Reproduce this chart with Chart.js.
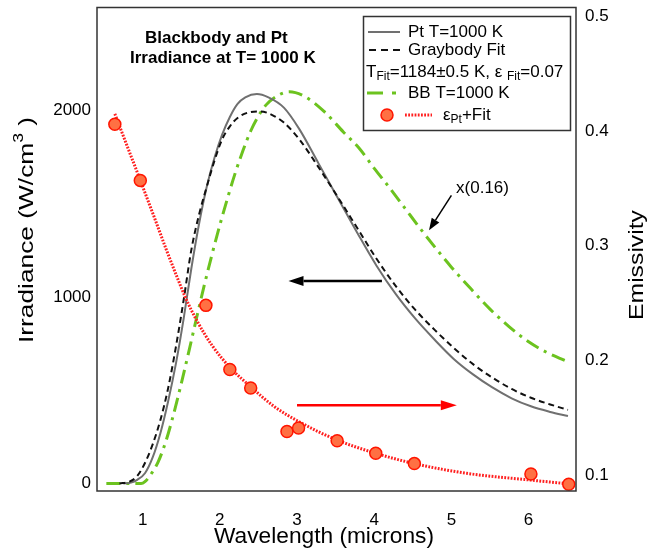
<!DOCTYPE html>
<html><head><meta charset="utf-8">
<script src="https://cdn.jsdelivr.net/npm/chart.js@4/dist/chart.umd.min.js"></script>
<style>html,body{margin:0;padding:0;background:#fff;}canvas{display:block;}</style>
</head><body>
<canvas id="c" width="647" height="550"></canvas>
<script>
// ---------- values ----------
const xTicks = [1, 2, 3, 4, 5, 6];
const leftTicks = [0, 1000, 2000];
const rightTicks = [0.1, 0.2, 0.3, 0.4, 0.5];

// Pt T=1000 K (grey solid)
const ptWavelength = [0.75, 0.85, 0.93, 1.03, 1.13, 1.23, 1.33, 1.43, 1.53, 1.63, 1.73, 1.83, 1.93, 2.03, 2.13, 2.23, 2.33, 2.48, 2.63, 2.83, 3.03, 3.28, 3.53, 3.78, 4.03, 4.28, 4.53, 4.78, 5.03, 5.28, 5.53, 5.78, 6.03, 6.28, 6.51];
const ptIrradiance = [0, 5, 20, 55, 140, 270, 440, 640, 880, 1150, 1390, 1590, 1745, 1870, 1965, 2035, 2070, 2088, 2070, 2015, 1900, 1715, 1530, 1345, 1168, 1015, 885, 772, 668, 585, 515, 457, 414, 384, 362];

// Graybody fit (black dashed)
const graybodyWavelength = [0.70, 0.83, 0.93, 1.03, 1.13, 1.23, 1.33, 1.43, 1.53, 1.63, 1.73, 1.83, 1.93, 2.03, 2.13, 2.23, 2.38, 2.53, 2.68, 2.83, 3.03, 3.28, 3.53, 3.78, 4.03, 4.28, 4.53, 4.78, 5.03, 5.28, 5.53, 5.78, 6.03, 6.28, 6.51];
const graybodyIrradiance = [0, 10, 40, 110, 210, 340, 510, 730, 980, 1250, 1440, 1590, 1730, 1845, 1915, 1960, 1990, 1995, 1975, 1935, 1845, 1695, 1535, 1370, 1205, 1058, 932, 825, 727, 640, 568, 507, 460, 424, 395];

// BB T=1000 K x(0.16) (green dash-dot)
const bbWavelength = [0.53, 0.98, 1.03, 1.1, 1.2, 1.3, 1.4, 1.5, 1.6, 1.7, 1.8, 1.9, 2.0, 2.1, 2.2, 2.3, 2.4, 2.5, 2.6, 2.75, 2.9, 3.1, 3.35, 3.6, 3.8, 4.0, 4.2, 4.4, 4.6, 4.8, 5.0, 5.25, 5.5, 5.75, 6.0, 6.25, 6.47];
const bbIrradiance = [0, 0, 10, 45, 115, 225, 370, 535, 710, 890, 1065, 1230, 1385, 1530, 1665, 1785, 1890, 1970, 2030, 2080, 2100, 2075, 1995, 1885, 1800, 1690, 1585, 1475, 1365, 1260, 1160, 1045, 935, 840, 760, 700, 660];

// Pt emissivity, measured points (right axis)
const emisWavelength = [0.64, 0.97, 1.82, 2.13, 2.40, 2.87, 3.02, 3.52, 4.02, 4.52, 6.03, 6.52];
const emisValues = [0.406, 0.357, 0.248, 0.192, 0.176, 0.138, 0.141, 0.130, 0.119, 0.110, 0.101, 0.092];

// Pt emissivity fit (red dotted)
const fitWavelength = [0.64, 0.97, 1.15, 1.31, 1.45, 1.56, 1.70, 1.90, 2.13, 2.40, 2.70, 3.04, 3.52, 4.02, 4.52, 5.20, 6.03, 6.58];
const fitValues = [0.415, 0.357, 0.325, 0.296, 0.272, 0.254, 0.235, 0.213, 0.194, 0.177, 0.160, 0.146, 0.1305, 0.119, 0.110, 0.1015, 0.0956, 0.0919];

// ---------- chart ----------
const FF = "'Liberation Sans', Arial, Helvetica, sans-serif";
const toXY = (xs, ys) => xs.map((x, i) => ({ x: x, y: ys[i] }));

function arrow(ctx, x1, y1, x2, y2, color, lw, headLen, headHalf) {
  const a = Math.atan2(y2 - y1, x2 - x1);
  const bx = x2 - headLen * Math.cos(a), by = y2 - headLen * Math.sin(a);
  ctx.save();
  ctx.strokeStyle = color; ctx.fillStyle = color; ctx.lineWidth = lw; ctx.setLineDash([]);
  ctx.beginPath(); ctx.moveTo(x1, y1); ctx.lineTo(bx, by); ctx.stroke();
  ctx.beginPath();
  ctx.moveTo(x2, y2);
  ctx.lineTo(bx + headHalf * Math.sin(a), by - headHalf * Math.cos(a));
  ctx.lineTo(bx - headHalf * Math.sin(a), by + headHalf * Math.cos(a));
  ctx.closePath(); ctx.fill();
  ctx.restore();
}

// draw a run of [text, size, dy] pieces left to right
function runs(ctx, pieces, x, y) {
  let cx = x;
  pieces.forEach(p => {
    ctx.font = p[1] + 'px ' + FF;
    ctx.fillText(p[0], cx, y + (p[2] || 0));
    cx += ctx.measureText(p[0]).width;
  });
}

const overlay = {
  id: 'overlay',
  afterDraw(chart) {
    const ctx = chart.ctx, ca = chart.chartArea;
    const xs = chart.scales.x, ys = chart.scales.y;
    ctx.save();
    // frame
    ctx.strokeStyle = '#333'; ctx.lineWidth = 1.5; ctx.setLineDash([]);
    ctx.strokeRect(ca.left, ca.top, ca.right - ca.left, ca.bottom - ca.top);

    ctx.fillStyle = '#000';
    ctx.textBaseline = 'middle'; ctx.textAlign = 'left';
    // title
    ctx.font = 'bold 17px ' + FF;
    ctx.fillText('Blackbody and Pt', 145, 38);
    ctx.fillText('Irradiance at T= 1000 K', 130, 58);

    // annotation arrows
    arrow(ctx, xs.getPixelForValue(4.10), ys.getPixelForValue(1086), xs.getPixelForValue(2.89), ys.getPixelForValue(1086), '#000', 2.5, 15, 5);
    arrow(ctx, xs.getPixelForValue(3.00), ys.getPixelForValue(420), xs.getPixelForValue(5.07), ys.getPixelForValue(420), '#ff0000', 2.5, 16, 5);
    arrow(ctx, xs.getPixelForValue(5.00), ys.getPixelForValue(1545), xs.getPixelForValue(4.71), ys.getPixelForValue(1358), '#000', 1.5, 12, 4.5);
    ctx.fillStyle = '#000';
    ctx.font = '17px ' + FF;
    ctx.textBaseline = 'middle';
    ctx.fillText('x(0.16)', xs.getPixelForValue(5.06), ys.getPixelForValue(1581));

    // legend box
    ctx.fillStyle = '#fff';
    ctx.fillRect(363.5, 16.5, 207, 114);
    ctx.strokeStyle = '#333'; ctx.lineWidth = 1.5;
    ctx.strokeRect(363.5, 16.5, 207, 114);
    ctx.lineCap = 'butt';
    // row 1
    ctx.strokeStyle = '#707070'; ctx.lineWidth = 2;
    ctx.beginPath(); ctx.moveTo(368, 32); ctx.lineTo(400, 32); ctx.stroke();
    // row 2
    ctx.strokeStyle = '#111'; ctx.setLineDash([7, 5]);
    ctx.beginPath(); ctx.moveTo(369, 50); ctx.lineTo(400, 50); ctx.stroke();
    ctx.setLineDash([]);
    // row 4
    ctx.strokeStyle = '#6cc31f'; ctx.lineWidth = 3;
    ctx.beginPath(); ctx.moveTo(367, 93); ctx.lineTo(383, 93); ctx.moveTo(392, 93); ctx.lineTo(396, 93); ctx.stroke();
    // row 5
    ctx.strokeStyle = '#ff2020'; ctx.lineWidth = 3; ctx.setLineDash([1.8, 1.4]);
    ctx.beginPath(); ctx.moveTo(405, 115); ctx.lineTo(432, 115); ctx.stroke();
    ctx.setLineDash([]);
    ctx.fillStyle = '#ff7043'; ctx.strokeStyle = '#ff1500'; ctx.lineWidth = 1.5;
    ctx.beginPath(); ctx.arc(387, 115, 6, 0, Math.PI * 2); ctx.fill(); ctx.stroke();

    ctx.fillStyle = '#000'; ctx.textBaseline = 'middle';
    ctx.font = '17px ' + FF;
    ctx.fillText('Pt T=1000 K', 408, 32);
    ctx.fillText('Graybody Fit', 408, 50);
    ctx.fillText('BB T=1000 K', 408, 93);
    runs(ctx, [['T', 17], ['Fit', 12, 5], ['=1184\u00b10.5 K, \u03b5 ', 17], ['Fit', 12, 5], ['=0.07', 17]], 366, 72);
    runs(ctx, [['\u03b5', 17], ['Pt', 12, 5], ['+Fit', 17]], 443, 115);

    // axis titles
    ctx.textBaseline = 'alphabetic'; ctx.textAlign = 'left';
    // x title
    ctx.font = '22px ' + FF;
    let t = 'Wavelength (microns)';
    let w = ctx.measureText(t).width;
    ctx.save(); ctx.translate(324, 543); ctx.scale(220 / w, 1);
    ctx.fillText(t, -w / 2, 0); ctx.restore();

    // left title with superscript
    ctx.font = '21px ' + FF; const w1 = ctx.measureText('Irradiance (W/cm').width;
    ctx.font = '14px ' + FF; const w2 = ctx.measureText('3').width;
    ctx.font = '21px ' + FF; const w3 = ctx.measureText(' )').width;
    const tot = w1 + w2 + w3;
    ctx.save(); ctx.translate(33, 230); ctx.rotate(-Math.PI / 2); ctx.scale(226 / tot, 1);
    ctx.font = '21px ' + FF; ctx.fillText('Irradiance (W/cm', -tot / 2, 0);
    ctx.font = '14px ' + FF; ctx.fillText('3', -tot / 2 + w1, -10);
    ctx.font = '21px ' + FF; ctx.fillText(' )', -tot / 2 + w1 + w2, 0);
    ctx.restore();

    // right title
    ctx.font = '21px ' + FF;
    t = 'Emissivity'; w = ctx.measureText(t).width;
    ctx.save(); ctx.translate(643, 265); ctx.rotate(-Math.PI / 2); ctx.scale(110 / w, 1);
    ctx.fillText(t, -w / 2, 0); ctx.restore();

    ctx.restore();
  }
};

const tickFont = { size: 17, family: FF };

new Chart(document.getElementById('c'), {
  type: 'line',
  data: {
    datasets: [
      { label: '\u03b5Pt', data: toXY(emisWavelength, emisValues), yAxisID: 'y2', showLine: false,
        pointRadius: 6, pointBackgroundColor: '#ff7043', pointBorderColor: '#ff1500', pointBorderWidth: 1.5 },
      { label: '\u03b5Pt Fit', data: toXY(fitWavelength, fitValues), yAxisID: 'y2', borderColor: '#ff2020',
        borderWidth: 3, borderDash: [1.8, 1.4], pointRadius: 0, cubicInterpolationMode: 'monotone', fill: false },
      { label: 'Graybody Fit', data: toXY(graybodyWavelength, graybodyIrradiance), yAxisID: 'y', borderColor: '#111',
        borderWidth: 2, borderDash: [6, 4], pointRadius: 0, cubicInterpolationMode: 'monotone', fill: false },
      { label: 'Pt T=1000 K', data: toXY(ptWavelength, ptIrradiance), yAxisID: 'y', borderColor: '#707070',
        borderWidth: 2, pointRadius: 0, cubicInterpolationMode: 'monotone', fill: false },
      { label: 'BB T=1000 K', data: toXY(bbWavelength, bbIrradiance), yAxisID: 'y', borderColor: '#6cc31f',
        borderWidth: 3, borderDash: [14, 6, 3, 6], pointRadius: 0, cubicInterpolationMode: 'monotone', fill: false }
    ]
  },
  options: {
    responsive: false, animation: false, devicePixelRatio: 1,
    layout: { padding: { top: 7, left: 0, right: 0, bottom: 0 } },
    plugins: { legend: { display: false }, tooltip: { enabled: false } },
    scales: {
      x: {
        type: 'linear', position: 'bottom', min: 0.409, max: 6.614,
        grid: { display: false, drawTicks: false }, border: { display: false },
        ticks: { font: tickFont, color: '#000', padding: 19, autoSkip: false, maxRotation: 0, callback: v => String(v) },
        afterBuildTicks: s => { s.ticks = xTicks.map(v => ({ value: v })); },
        afterFit: s => { s.height = 59; s.paddingLeft = 0; s.paddingRight = 0; }
      },
      y: {
        type: 'linear', position: 'left', min: -40, max: 2552,
        grid: { display: false, drawTicks: false }, border: { display: false },
        ticks: { font: tickFont, color: '#000', padding: 6, callback: v => String(v) },
        afterBuildTicks: s => { s.ticks = leftTicks.map(v => ({ value: v })); },
        afterFit: s => { s.width = 97; s.paddingTop = 0; s.paddingBottom = 0; }
      },
      y2: {
        type: 'linear', position: 'right', min: 0.0861, max: 0.5078,
        grid: { display: false, drawTicks: false }, border: { display: false },
        ticks: { font: tickFont, color: '#000', padding: 9, callback: v => Number(v).toFixed(1) },
        afterBuildTicks: s => { s.ticks = rightTicks.map(v => ({ value: v })); },
        afterFit: s => { s.width = 71; s.paddingTop = 0; s.paddingBottom = 0; }
      }
    }
  },
  plugins: [overlay]
});
</script>
</body></html>
